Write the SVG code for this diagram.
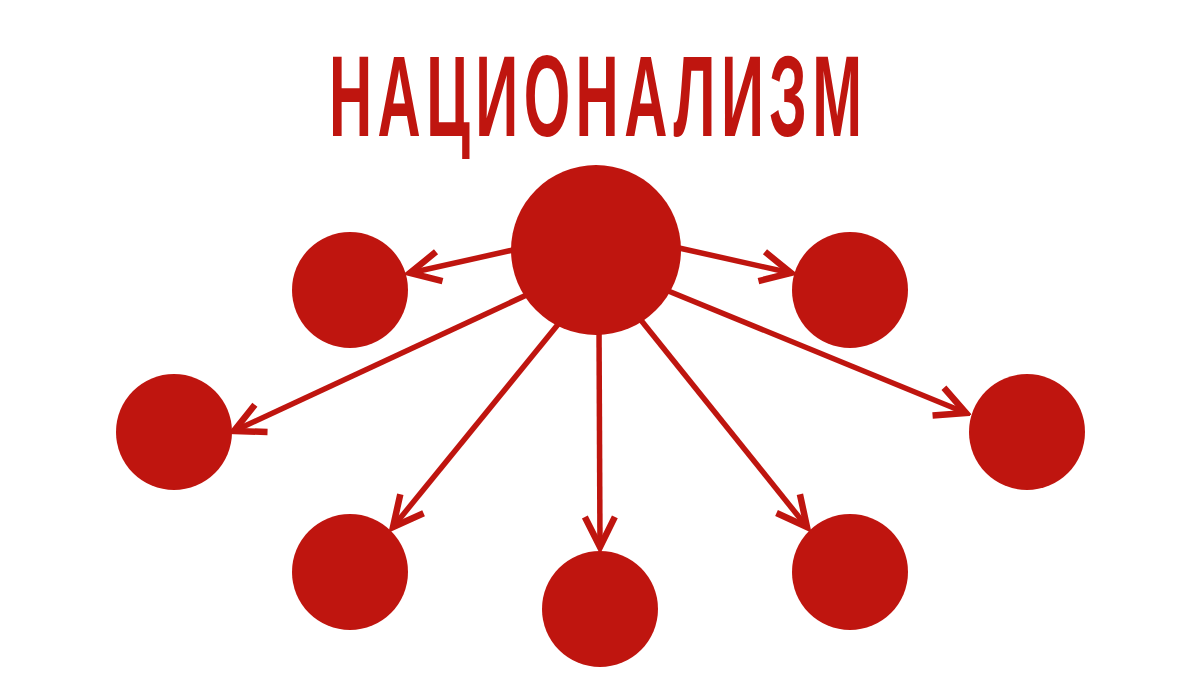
<svg xmlns="http://www.w3.org/2000/svg" width="1200" height="700" viewBox="0 0 1200 700">
<defs>
<style>
.node{fill:#BF150F}
.edge{stroke:#BF150F;stroke-width:5.5;fill:none;marker-end:url(#arr)}
.title{fill:#BF150F;font-family:"Liberation Sans","DejaVu Sans",sans-serif;font-size:115px;font-weight:bold}
</style>
<marker id="arr" markerUnits="userSpaceOnUse" orient="auto" markerWidth="40" markerHeight="40" viewBox="-35 -20 40 40" refX="0" refY="0">
<path d="M-30,-15 L0,0 L-30,15" fill="none" stroke="#BF150F" stroke-width="6.5" stroke-linejoin="miter"/>
</marker>
</defs>
<rect width="1200" height="700" fill="#FFFFFF"/>
<text class="title" transform="translate(329,136) scale(0.52,1)" x="0" y="0" textLength="1025" lengthAdjust="spacing">НАЦИОНАЛИЗМ</text>
<g id="connectors">
<line class="edge" x1="522" y1="248" x2="410" y2="273"/>
<line class="edge" x1="533" y1="292" x2="234" y2="431"/>
<line class="edge" x1="564" y1="317" x2="393" y2="527"/>
<line class="edge" x1="599" y1="327" x2="600" y2="547"/>
<line class="edge" x1="636" y1="314" x2="807" y2="527"/>
<line class="edge" x1="661" y1="288" x2="966" y2="413"/>
<line class="edge" x1="670" y1="246" x2="791" y2="273"/>
</g>
<g id="center"><circle class="node" cx="596" cy="250" r="85"/></g>
<g id="n1"><circle class="node" cx="350" cy="290" r="58"/></g>
<g id="n2"><circle class="node" cx="850" cy="290" r="58"/></g>
<g id="n3"><circle class="node" cx="174" cy="432" r="58"/></g>
<g id="n4"><circle class="node" cx="1027" cy="432" r="58"/></g>
<g id="n5"><circle class="node" cx="350" cy="572" r="58"/></g>
<g id="n6"><circle class="node" cx="600" cy="609" r="58"/></g>
<g id="n7"><circle class="node" cx="850" cy="572" r="58"/></g>
</svg>
